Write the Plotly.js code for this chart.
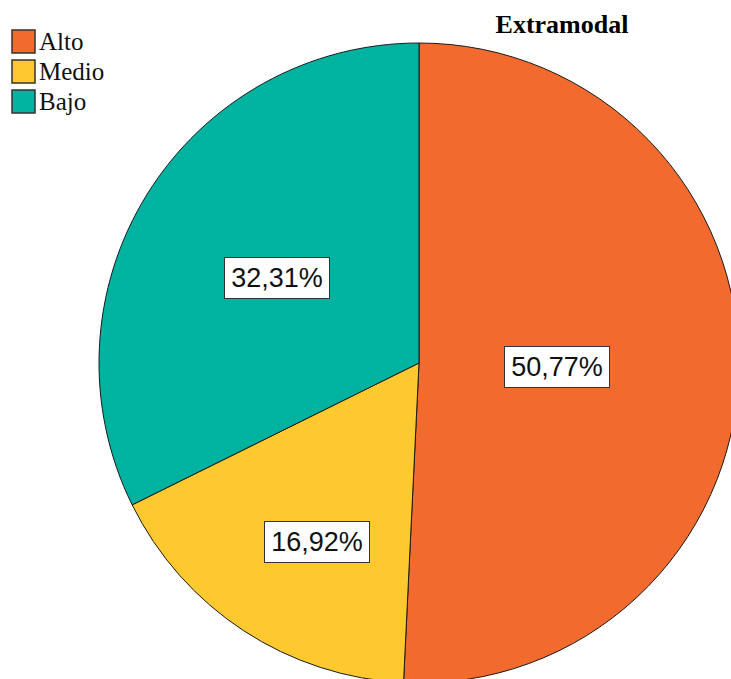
<!DOCTYPE html>
<html><head><meta charset="utf-8">
<script src="https://cdn.plot.ly/plotly-3.0.1.min.js"></script>
<style>html,body{margin:0;padding:0;overflow:hidden;background:#fff}#chart{width:760px;height:700px}</style>
</head><body><div id="chart"></div><script>
// ---- data ----
const categories = ['Alto', 'Medio', 'Bajo'];
const percentages = [50.77, 16.92, 32.31];
const sliceColors = ['#F26A2E', '#FDC92F', '#00B2A0'];
const chartTitle = 'Extramodal';

// ---- styling / geometry ----
const W = 760, H = 700;
const CX = 419, CY = 363, R = 320;           // pie centre & radius in px
const labelRadius = [0.43, 0.645, 0.517];    // radial placement of value boxes
const labelAngleShift = [0.3, -3.5, -0.9];   // degrees, fine placement of value boxes

const fmt = v => v.toFixed(2).replace('.', ',') + '%';

const trace = {
  type: 'pie',
  labels: categories,
  values: percentages,
  sort: false,
  direction: 'clockwise',
  rotation: 0,
  marker: { colors: sliceColors, line: { color: '#1a1a1a', width: 1 } },
  textinfo: 'none',
  hoverinfo: 'label+percent',
  showlegend: false,
  domain: { x: [(CX - R) / W, (CX + R) / W], y: [(H - CY - R) / H, (H - CY + R) / H] }
};

const total = percentages.reduce((a, b) => a + b, 0);
const annotations = [];
let cum = 0;
percentages.forEach((v, i) => {
  const mid = (cum + v / 2) / total * 2 * Math.PI + labelAngleShift[i] * Math.PI / 180;
  cum += v;
  const px = CX + labelRadius[i] * R * Math.sin(mid);
  const py = CY - labelRadius[i] * R * Math.cos(mid);
  annotations.push({
    xref: 'paper', yref: 'paper', x: px / W, y: (H - py) / H,
    xanchor: 'center', yanchor: 'middle', showarrow: false,
    text: fmt(v),
    font: { family: 'Liberation Sans, Arial, sans-serif', size: 27, color: '#111' },
    bgcolor: '#ffffff', bordercolor: '#333333', borderwidth: 1, borderpad: 0,
    width: 104, height: 40
  });
});

// legend (custom, built from categories/colors)
const shapes = [];
categories.forEach((c, i) => {
  const top = 30 + i * 30;
  shapes.push({
    type: 'rect', xref: 'paper', yref: 'paper',
    x0: 12 / W, x1: 35 / W, y0: (H - top) / H, y1: (H - top - 23) / H,
    fillcolor: sliceColors[i], line: { color: '#333333', width: 1.5 }
  });
  annotations.push({
    xref: 'paper', yref: 'paper', x: 37 / W, y: (H - top - 11.5) / H,
    xanchor: 'left', yanchor: 'middle', showarrow: false,
    text: c, font: { family: 'Liberation Serif, Times New Roman, serif', size: 25, color: '#111' }
  });
});

const layout = {
  width: W, height: H,
  margin: { l: 0, r: 0, t: 0, b: 0 },
  paper_bgcolor: '#ffffff',
  title: {
    text: '<b>' + chartTitle + '</b>',
    x: 562 / W, xref: 'paper', xanchor: 'center',
    y: 1 - 24 / H, yref: 'container', yanchor: 'middle',
    font: { family: 'Liberation Serif, Times New Roman, serif', size: 26, color: '#000' }
  },
  shapes: shapes,
  annotations: annotations,
  showlegend: false
};

Plotly.newPlot('chart', [trace], layout, { displayModeBar: false, staticPlot: true });
</script></body></html>
